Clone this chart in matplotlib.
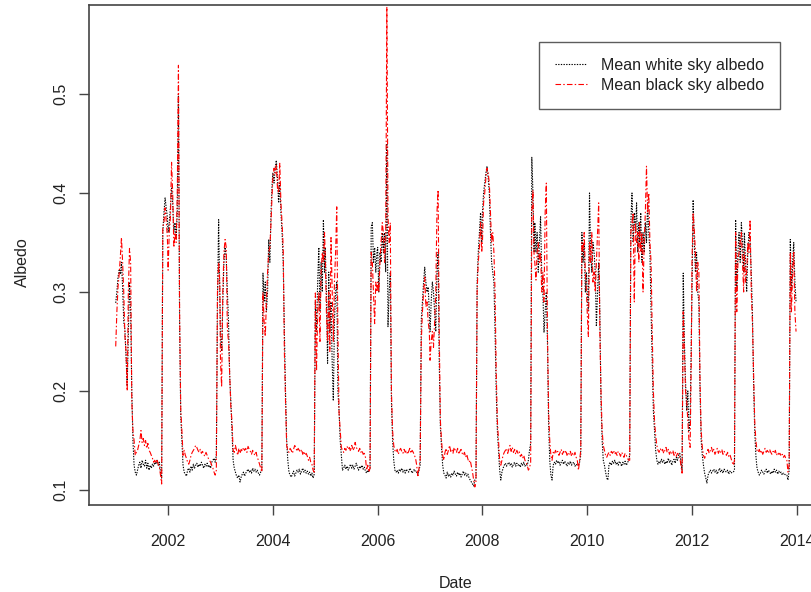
import matplotlib
matplotlib.use("Agg")
import matplotlib.pyplot as plt
import numpy as np

plt.rcParams["font.family"] = ["Liberation Sans", "DejaVu Sans"]

# 8-day composites, 46 per year, 2001-2013
years = list(range(2001, 2014))
steps_per_year = 46

white_sky = [
    # 2001
    .289, .300, .315, .322, .318, .330, .305, .270, .262, .235, .205, .260, .310, .280, .200, .150,
    .125, .118, .115, .120, .125, .128, .122, .130, .126, .124, .130, .122, .127, .120, .125, .122,
    .126, .124, .128, .126, .130, .125, .128, .118, .112, .360, .380, .395, .385, .375,
    # 2002
    .360, .370, .385, .405, .390, .360, .370, .355, .380, .500, .270, .175, .150, .125, .118, .116,
    .114, .120, .122, .118, .124, .120, .126, .122, .125, .127, .123, .126, .124, .128, .125, .122,
    .126, .124, .127, .123, .125, .122, .128, .130, .132, .128, .135, .290, .373, .300,
    # 2003
    .255, .240, .290, .330, .345, .335, .300, .270, .215, .190, .160, .130, .122, .118, .114, .112,
    .115, .108, .113, .116, .118, .114, .117, .119, .121, .118, .120, .117, .122, .119, .121, .118,
    .120, .117, .115, .118, .120, .319, .290, .310, .280, .300, .353, .330, .380, .410,
    # 2004
    .420, .410, .425, .433, .415, .390, .410, .380, .360, .330, .260, .200, .150, .130, .118, .115,
    .113, .116, .119, .114, .117, .120, .118, .121, .116, .119, .122, .118, .120, .117, .119, .116,
    .118, .114, .117, .112, .116, .290, .260, .310, .345, .280, .330, .300, .373, .320,
    # 2005
    .345, .300, .228, .320, .260, .290, .230, .190, .270, .300, .310, .200, .180, .150, .135, .120,
    .122, .125, .121, .124, .120, .123, .126, .122, .125, .121, .124, .127, .123, .120, .124, .122,
    .125, .121, .123, .119, .117, .120, .118, .122, .366, .370, .330, .345, .320, .340,
    # 2006
    .345, .300, .340, .330, .360, .340, .360, .320, .450, .265, .300, .320, .190, .150, .130, .120,
    .118, .120, .117, .121, .119, .122, .118, .120, .117, .121, .119, .118, .122, .120, .117, .119,
    .121, .118, .118, .115, .120, .125, .272, .290, .310, .325, .310, .300, .305, .280,
    # 2007
    .260, .290, .310, .300, .280, .260, .320, .340, .230, .164, .143, .125, .117, .115, .112, .118,
    .114, .116, .113, .117, .115, .119, .116, .114, .118, .115, .117, .113, .116, .119, .115, .117,
    .114, .116, .112, .110, .108, .106, .104, .110, .112, .309, .340, .360, .380, .350,
    # 2008
    .380, .400, .410, .420, .427, .415, .400, .360, .330, .320, .310, .260, .200, .160, .140, .120,
    .110, .118, .122, .125, .127, .124, .126, .128, .125, .127, .123, .126, .128, .124, .127, .125,
    .126, .123, .127, .125, .128, .124, .126, .125, .130, .140, .147, .436, .400, .340,
    # 2009
    .370, .340, .360, .320, .350, .376, .320, .300, .259, .280, .300, .250, .167, .130, .115, .110,
    .125, .128, .126, .130, .127, .129, .125, .128, .130, .126, .129, .127, .124, .128, .126, .129,
    .125, .127, .128, .124, .126, .125, .125, .128, .135, .360, .330, .350, .300, .320,
    # 2010
    .300, .280, .400, .340, .320, .350, .340, .320, .265, .300, .330, .280, .190, .150, .130, .125,
    .118, .112, .110, .126, .128, .125, .129, .127, .130, .126, .128, .125, .129, .127, .124, .128,
    .126, .129, .125, .127, .130, .135, .370, .400, .350, .380, .360, .390, .340, .370,
    # 2011
    .350, .380, .330, .360, .340, .370, .350, .390, .360, .340, .280, .230, .180, .160, .140, .130,
    .126, .129, .127, .131, .128, .130, .126, .129, .127, .132, .128, .130, .125, .129, .131, .127,
    .133, .130, .135, .137, .128, .120, .319, .250, .210, .180, .200, .160, .170, .250,
    # 2012
    .300, .393, .350, .320, .340, .300, .290, .200, .150, .135, .125, .117, .112, .107, .115, .118,
    .120, .117, .119, .121, .118, .120, .116, .119, .122, .118, .120, .117, .121, .119, .118, .120,
    .116, .119, .117, .118, .118, .120, .373, .300, .340, .360, .330, .370, .350, .320,
    # 2013
    .360, .330, .300, .340, .360, .350, .320, .280, .210, .160, .135, .122, .118, .115, .117, .120,
    .118, .116, .119, .121, .117, .120, .118, .116, .119, .117, .121, .118, .120, .116, .119, .117,
    .118, .115, .117, .116, .115, .115, .110, .120, .353, .300, .330, .350, .310, .290,
]

black_sky = [
    # 2001
    .245, .280, .305, .318, .335, .355, .330, .300, .255, .240, .200, .300, .344, .330, .190, .160,
    .150, .135, .138, .140, .145, .150, .160, .148, .152, .145, .150, .142, .147, .140, .138, .135,
    .132, .128, .130, .127, .131, .126, .124, .115, .106, .366, .370, .385, .372, .355,
    # 2002
    .322, .360, .375, .431, .400, .345, .360, .350, .400, .529, .280, .182, .160, .135, .140, .135,
    .132, .128, .126, .130, .135, .138, .140, .142, .145, .143, .140, .138, .141, .137, .139, .136,
    .134, .138, .135, .132, .130, .128, .125, .122, .118, .115, .120, .300, .330, .310,
    # 2003
    .230, .204, .300, .340, .353, .345, .262, .250, .218, .184, .170, .140, .138, .145, .140, .135,
    .142, .137, .141, .139, .143, .140, .142, .138, .144, .141, .139, .136, .140, .137, .135, .138,
    .133, .130, .126, .122, .118, .300, .270, .255, .290, .320, .340, .345, .370, .400,
    # 2004
    .415, .425, .420, .428, .405, .400, .430, .390, .370, .345, .240, .190, .145, .140, .138, .142,
    .140, .137, .141, .145, .143, .139, .142, .140, .138, .141, .136, .139, .135, .137, .134, .130,
    .133, .128, .126, .120, .118, .299, .220, .280, .300, .250, .320, .340, .330, .360,
    # 2005
    .335, .280, .250, .300, .240, .355, .300, .250, .310, .340, .386, .260, .178, .160, .143, .140,
    .138, .142, .140, .144, .141, .143, .139, .145, .142, .140, .148, .143, .141, .139, .142, .138,
    .140, .136, .137, .133, .120, .125, .118, .122, .340, .330, .300, .268, .310, .300,
    # 2006
    .310, .300, .330, .350, .370, .360, .330, .350, .588, .376, .350, .370, .200, .160, .145, .140,
    .138, .141, .136, .140, .142, .139, .137, .141, .138, .140, .136, .139, .142, .137, .140, .138,
    .135, .132, .125, .113, .122, .130, .250, .280, .300, .315, .285, .290, .270, .260,
    # 2007
    .231, .250, .260, .244, .270, .300, .380, .403, .260, .170, .150, .135, .130, .138, .142, .136,
    .140, .145, .139, .141, .137, .143, .140, .138, .142, .136, .139, .141, .137, .135, .138, .133,
    .136, .131, .128, .130, .124, .118, .110, .103, .108, .300, .330, .345, .370, .340,
    # 2008
    .350, .390, .400, .415, .425, .420, .410, .380, .350, .360, .340, .300, .220, .170, .150, .130,
    .125, .130, .135, .138, .140, .142, .137, .141, .145, .139, .143, .138, .141, .136, .140, .137,
    .139, .134, .136, .132, .135, .130, .128, .125, .120, .122, .128, .380, .403, .335,
    # 2009
    .330, .312, .340, .350, .330, .340, .300, .320, .290, .380, .410, .260, .180, .150, .135, .130,
    .138, .136, .140, .137, .139, .135, .138, .141, .136, .139, .137, .140, .135, .138, .136, .139,
    .134, .137, .135, .138, .133, .130, .120, .130, .140, .350, .340, .360, .320, .300,
    # 2010
    .280, .255, .350, .330, .360, .310, .320, .300, .330, .360, .390, .260, .200, .160, .145, .140,
    .135, .133, .136, .138, .135, .139, .137, .140, .136, .138, .135, .139, .137, .134, .138, .136,
    .133, .137, .135, .132, .130, .130, .360, .370, .380, .290, .370, .350, .360, .330,
    # 2011
    .370, .340, .360, .300, .350, .380, .427, .380, .400, .350, .330, .260, .200, .170, .155, .145,
    .140, .138, .142, .139, .141, .137, .140, .143, .138, .141, .136, .139, .137, .140, .135, .138,
    .134, .137, .136, .133, .125, .117, .280, .240, .200, .190, .170, .150, .143, .230,
    # 2012
    .330, .380, .363, .340, .300, .330, .320, .210, .160, .143, .135, .132, .135, .138, .141, .137,
    .140, .143, .138, .141, .136, .139, .142, .137, .140, .138, .141, .136, .139, .137, .135, .138,
    .134, .136, .132, .128, .125, .130, .360, .280, .330, .340, .350, .360, .330, .300,
    # 2013
    .340, .310, .320, .350, .340, .373, .300, .270, .220, .170, .150, .140, .138, .141, .137, .140,
    .136, .139, .142, .138, .140, .137, .141, .138, .136, .139, .137, .140, .135, .138, .136, .137,
    .134, .136, .133, .135, .132, .130, .118, .125, .340, .280, .320, .340, .280, .260,
]

x_ticks = [2002, 2004, 2006, 2008, 2010, 2012, 2014]
y_ticks = [0.1, 0.2, 0.3, 0.4, 0.5]

# decimal-year positions of the composites
dates = np.array([y + 8 * k / 365.0 for y in years for k in range(steps_per_year)])
white = np.array(white_sky)
black = np.array(black_sky)

fig = plt.figure(figsize=(8.12, 5.92), dpi=100)
ax = fig.add_axes([89 / 812, 87 / 592, 735 / 812, 500 / 592])

ax.plot(dates, white, color="black", lw=0.8, dashes=(1.2, 1.2), label="Mean white sky albedo")
ax.plot(dates, black, color="red", lw=0.8, dashes=(5, 2, 1.3, 2), label="Mean black sky albedo")

ax.set_xlim(2000.49, 2014.52)
ax.set_ylim(0.0848, 0.5899)
ax.set_xticks(x_ticks)
ax.set_xticklabels([str(t) for t in x_ticks])
ax.set_yticks(y_ticks)
ax.set_yticklabels([f"{t:.1f}" for t in y_ticks], rotation=90, va="center")

for side in ax.spines.values():
    side.set_color("#444444")
    side.set_linewidth(1.2)
ax.tick_params(direction="out", length=7, width=1, color="#444444", labelsize=11.5,
               labelcolor="#222222")
ax.tick_params(axis="x", pad=14)
ax.tick_params(axis="y", pad=8)

fig.text(456 / 812, 1 - 583 / 592, "Date", ha="center", va="center", fontsize=11.5, color="#222222")
fig.text(22 / 812, 1 - 262 / 592, "Albedo", ha="center", va="center", rotation=90,
         fontsize=11.5, color="#222222")

leg = ax.legend(loc="upper left", bbox_to_anchor=((539 - 89) / 735, 1 - (42 - 5) / 500),
                borderaxespad=0, fancybox=False, frameon=True, fontsize=11.5,
                handlelength=2.0, handletextpad=0.9, labelspacing=0.3, borderpad=1.0)
leg.get_frame().set_edgecolor("#333333")
leg.get_frame().set_linewidth(1.0)
for t in leg.get_texts():
    t.set_color("#222222")

fig.savefig("out.png", dpi=100)
